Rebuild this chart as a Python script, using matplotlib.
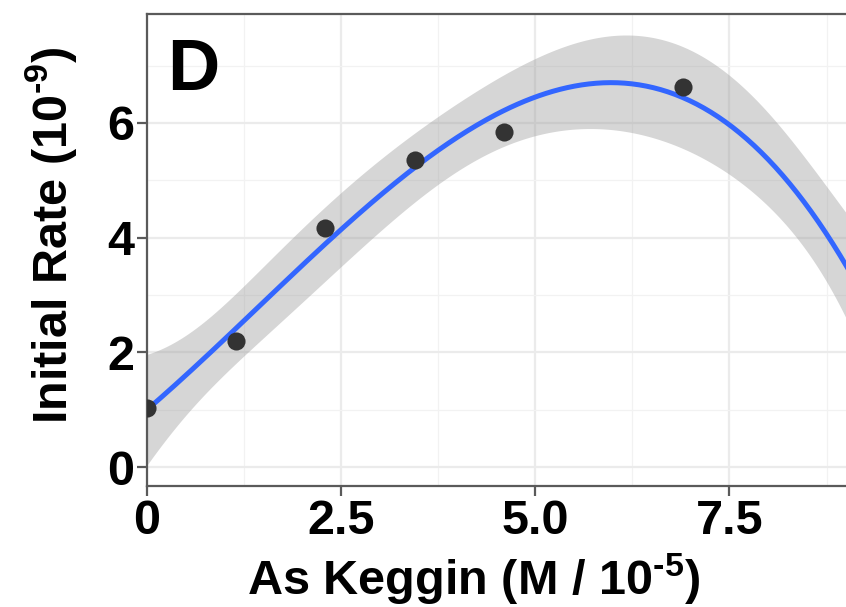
import numpy as np
import matplotlib.pyplot as plt

# As Keggin concentration (M / 1e-5) and initial rate (1e-9);
# the last point sits just past the right edge of the visible panel
conc = [0.0, 1.15, 2.3, 3.45, 4.6, 6.9, 9.2]
rate = [1.03, 2.20, 4.17, 5.36, 5.84, 6.62, 3.00]

x_ticks = [0, 2.5, 5.0, 7.5]
x_tick_labels = ["0", "2.5", "5.0", "7.5"]
y_ticks = [0, 2, 4, 6]

plt.rcParams['font.family'] = ['Liberation Sans', 'DejaVu Sans']
plt.rcParams['font.weight'] = 'bold'
plt.rcParams['mathtext.default'] = 'regular'

# cubic lm fit with 95% confidence band (geom_smooth(method="lm", formula=y~poly(x,3)))
x = np.array(conc)
y = np.array(rate)
deg = 3
X = np.vander(x, deg + 1)
beta = np.linalg.lstsq(X, y, rcond=None)[0]
resid = y - X @ beta
dof = len(x) - (deg + 1)
s2 = (resid ** 2).sum() / dof
cov = s2 * np.linalg.inv(X.T @ X)
t_crit = {2: 4.303, 3: 3.182, 4: 2.776}[dof]

xs = np.linspace(0, 9.2, 300)
Xs = np.vander(xs, deg + 1)
fit = Xs @ beta
se = np.sqrt(np.einsum('ij,jk,ik->i', Xs, cov, Xs))

fig = plt.figure(figsize=(8.46, 6.07), dpi=100)
ax = fig.add_axes([146.5 / 846, (607 - 486) / 607, (846 - 146.5) / 846, (486 - 14) / 607])

ax.fill_between(xs, fit - t_crit * se, fit + t_crit * se, color='#999999', alpha=0.4, lw=0, zorder=2)
ax.plot(xs, fit, color='#3366FF', lw=3.6, zorder=3)
ax.scatter(conc, rate, s=170, color='#333333', lw=0, zorder=4)

ax.set_xlim(0, 9.0)
ax.set_ylim(-0.33, 7.9)
ax.set_xticks(x_ticks)
ax.set_xticklabels(x_tick_labels)
ax.set_yticks(y_ticks)
ax.set_xticks([1.25, 3.75, 6.25, 8.75], minor=True)
ax.set_yticks([1, 3, 5, 7], minor=True)

ax.grid(which='major', color='#ebebeb', lw=1.6, zorder=0)
ax.grid(which='minor', color='#f2f2f2', lw=0.9, zorder=0)
ax.set_axisbelow(True)

for side in ['left', 'bottom', 'top']:
    ax.spines[side].set_color('#5a5a5a')
    ax.spines[side].set_linewidth(1.6)
ax.spines['right'].set_visible(False)

ax.tick_params(which='major', length=7, width=1.6, color='#5a5a5a', labelsize=35, pad=2)
ax.tick_params(which='minor', length=0)
for lab in ax.get_xticklabels() + ax.get_yticklabels():
    lab.set_fontweight('bold')

ax.set_xlabel("As Keggin (M / 10$^{‐5}$)", fontsize=35, fontweight='bold', labelpad=6)
ax.set_ylabel("Initial Rate (10$^{‐9}$)", fontsize=35, fontweight='bold', labelpad=20)
# the full panel runs past the right edge, so the titles sit off the visible centre
ax.xaxis.label.set_x(0.467)
ax.yaxis.label.set_y(0.532)

ax.text(0.27, 7.5, "D", fontsize=52, fontweight='bold', va='top', ha='left')

fig.savefig('out.png', dpi=100)
